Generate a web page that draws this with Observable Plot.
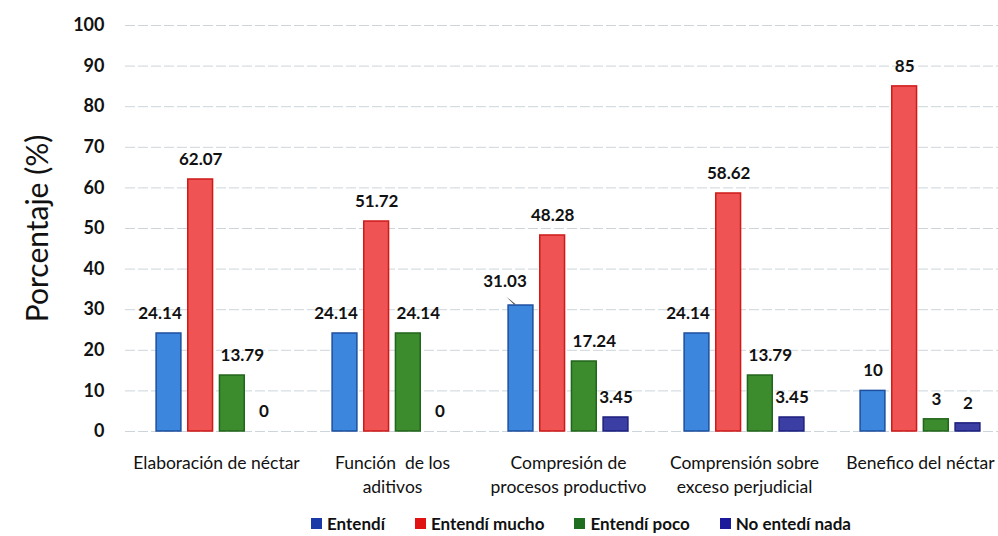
<!DOCTYPE html>
<html>
<head>
<meta charset="utf-8">
<script src="https://cdn.jsdelivr.net/npm/d3@7"></script>
<script src="https://cdn.jsdelivr.net/npm/@observablehq/plot@0.6"></script>
<style>
  html, body { margin: 0; padding: 0; background: #fff; }
  #chart { width: 998px; }
  .legend { display: flex; justify-content: center; align-items: center; height: 36px; padding-left: 164px; box-sizing: border-box; width: 998px;
    font-family: Lato, "Open Sans", sans-serif; font-weight: bold; font-size: 17px; color: #111; }
  .legend .item { display: flex; align-items: center; margin: 0 15px; }
  .legend .sw { width: 11px; height: 11px; margin-right: 5px; display: inline-block; }
</style>
</head>
<body>
<div id="chart"></div>
<script>
const categories = [
  "Elaboración de néctar",
  "Función de los aditivos",
  "Compresión de procesos productivo",
  "Comprensión sobre exceso perjudicial",
  "Benefico del néctar"
];
const categoryLabels = [
  "Elaboración de néctar",
  "Función  de los\naditivos",
  "Compresión de\nprocesos productivo",
  "Comprensión sobre\nexceso perjudicial",
  "Benefico del néctar"
];
const series = ["Entendí", "Entendí mucho", "Entendí poco", "No entedí nada"];
const entendi = [24.14, 24.14, 31.03, 24.14, 10];
const entendiMucho = [62.07, 51.72, 48.28, 58.62, 85];
const entendiPoco = [13.79, 24.14, 17.24, 13.79, 3];
const noEntendiNada = [0, 0, 3.45, 3.45, 2];
const yTicks = [0, 10, 20, 30, 40, 50, 60, 70, 80, 90, 100];
const yLabel = "Porcentaje (%)";

const seriesValues = [entendi, entendiMucho, entendiPoco, noEntendiNada];
const fills = ["#3d86de", "#ef5353", "#3c8c2e", "#3b3ea3"];
const strokes = ["#1d4f9f", "#cf1a1a", "#22651c", "#1d1f7d"];
const legendColors = ["#1a3aa8", "#e01212", "#1f6e1f", "#1a1a9a"];
// label nudges (px) for wide labels, as placed in the original
const labelShift = [-9, 0, 10, 0];

// layout (pixels)
const xRange = [127, 1008];
const bandW = (xRange[1] - xRange[0]) / categories.length;
const barW = 25, barStep = 31.67;
const groupOffset = (bandW - (3 * barStep + barW)) / 2;

const data = categories.flatMap((c, i) =>
  series.map((s, j) => ({cat: c, series: s, value: seriesValues[j][i]}))
);

const textStyle = {x: "cat", y: "value", text: d => String(d.value), lineAnchor: "middle",
  fontWeight: "bold", fontSize: 17, fill: "#111"};

const barMarks = series.flatMap((s, j) => {
  const insetLeft = groupOffset + j * barStep;
  const insetRight = bandW - insetLeft - barW;
  const dx = insetLeft + barW / 2 - bandW / 2;
  const rows = data.filter(d => d.series === s);
  const wide = d => String(d.value).length > 2;
  const moved = rows.filter(d => d.value === 31.03);
  return [
    Plot.barY(rows, {
      x: "cat", y: "value", insetLeft, insetRight,
      fill: fills[j], stroke: strokes[j], strokeWidth: 1.5
    }),
    Plot.text(rows.filter(d => !wide(d)), {...textStyle, dx, dy: -20}),
    Plot.text(rows.filter(d => wide(d) && d.value !== 31.03), {...textStyle, dx: dx + labelShift[j], dy: -20}),
    Plot.text(moved, {...textStyle, dx: dx - 16, dy: -24}),
    Plot.vector(moved, {
      x: "cat", y: "value", length: 12, rotate: -48, anchor: "start", shape: "spike", r: 0.7,
      fill: "#555", stroke: "none", dx: dx - 6, dy: -1
    })
  ];
});

const chart = Plot.plot({
  width: 998,
  height: 505,
  marginLeft: 125,
  marginRight: 0,
  marginTop: 25,
  marginBottom: 74,
  style: {fontFamily: "Lato, 'Open Sans', sans-serif", color: "#111", background: "#fff"},
  x: {domain: categories, range: xRange, padding: 0, label: null},
  y: {domain: [0, 100]},
  marks: [
    Plot.ruleY(yTicks, {stroke: "#cdd5db", strokeWidth: 1, strokeDasharray: "10,3"}),
    ...barMarks,
    Plot.axisY({
      ticks: yTicks, tickSize: 0, tickPadding: 21, fontSize: 18, fontWeight: "bold", fill: "#111", label: null
    }),
    Plot.axisX({
      anchor: "bottom", tickSize: 0, tickPadding: 21, fontSize: 17.5, lineHeight: 1.35, fill: "#111", label: null,
      tickFormat: d => categoryLabels[categories.indexOf(d)]
    }),
    Plot.text([yLabel], {frameAnchor: "left", textAnchor: "middle", rotate: -90, dx: -87, dy: 0, fontSize: 30, fill: "#111"})
  ]
});
document.getElementById("chart").appendChild(chart);

const legend = document.createElement("div");
legend.className = "legend";
series.forEach((s, j) => {
  const item = document.createElement("span");
  item.className = "item";
  const sw = document.createElement("span");
  sw.className = "sw";
  sw.style.background = legendColors[j];
  item.appendChild(sw);
  item.appendChild(document.createTextNode(s));
  legend.appendChild(item);
});
document.getElementById("chart").appendChild(legend);
</script>
</body>
</html>
